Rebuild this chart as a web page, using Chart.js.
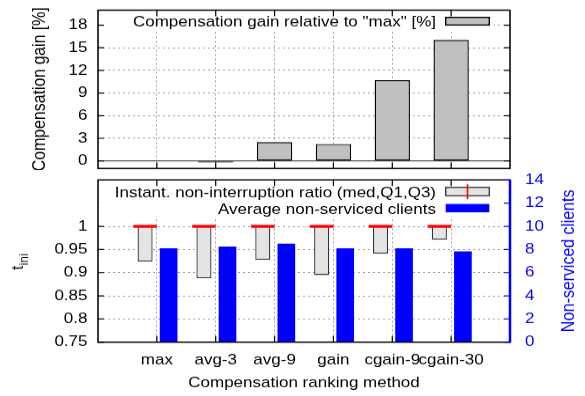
<!DOCTYPE html>
<html>
<head>
<meta charset="utf-8">
<script src="https://cdn.jsdelivr.net/npm/chart.js@4.4.1/dist/chart.umd.min.js"></script>
<style>
  html, body { margin: 0; padding: 0; background: #fff; }
  #wrap { width: 585px; height: 396px; }
</style>
</head>
<body>
<div id="wrap">
  <canvas id="gainChart" width="585" height="193" style="width:585px;height:170px"></canvas>
  <canvas id="ratioChart" width="585" height="257" style="width:585px;height:226px"></canvas>
</div>
<script>
// ============================================================================
//  DATA
// ============================================================================
const methods = ["max", "avg-3", "avg-9", "gain", "cgain-9", "cgain-30"];

const gainLabel = 'Compensation gain relative to "max" [%]';
const gainValues = [0, -0.2, 2.5, 2.25, 10.7, 16.05];
const gainTicks = [0, 3, 6, 9, 12, 15, 18];

const ratioLabel = "Instant. non-interruption ratio (med,Q1,Q3)";
const ratioQ1 = [0.924, 0.888, 0.928, 0.895, 0.941, 0.971];
const ratioQ3 = [1, 1, 1, 1, 1, 1];
const ratioMedian = [1, 1, 1, 1, 1, 1];
const ratioTicks = [0.75, 0.8, 0.85, 0.9, 0.95, 1];

const clientsLabel = "Average non-serviced clients";
const nonServiced = [8.1, 8.25, 8.5, 8.1, 8.1, 7.85];
const clientTicks = [0, 2, 4, 6, 8, 10, 12, 14];

// ============================================================================
//  STYLE
// ============================================================================
const FONT = "'Liberation Sans', Arial, sans-serif";
const GRID = "#9c9c9c";
const BLUE = "#0000ff";
Chart.defaults.font.family = FONT;
Chart.defaults.font.size = 17;
Chart.defaults.color = "#000";

// empty slot left and right of the six methods, like the gnuplot x range
const slots = ["", ...methods, ""];
const pad = arr => [null, ...arr, null];

function noPadding(s) {
    s.paddingTop = 0; s.paddingBottom = 0; s.paddingLeft = 0; s.paddingRight = 0;
}

// ============================================================================
//  FRAME + INWARD TICKS
// ============================================================================
function drawFrame(chart, rightScale) {
    const { ctx, chartArea: a, scales } = chart;
    ctx.save();
    ctx.strokeStyle = "#000";
    ctx.lineWidth = 1.2;
    ctx.beginPath();
    const xs = scales.x;
    for (let i = 1; i < xs.ticks.length - 1; i++) {
        const px = xs.getPixelForTick(i);
        ctx.moveTo(px, a.bottom); ctx.lineTo(px, a.bottom - 7);
        ctx.moveTo(px, a.top); ctx.lineTo(px, a.top + 7);
    }
    const ys = scales.y;
    ys.ticks.forEach(t => {
        const py = ys.getPixelForValue(t.value);
        ctx.moveTo(a.left, py); ctx.lineTo(a.left + 6, py);
        if (!rightScale) { ctx.moveTo(a.right, py); ctx.lineTo(a.right - 6, py); }
    });
    ctx.stroke();

    ctx.lineWidth = 1.5;
    ctx.beginPath();
    ctx.moveTo(a.right, a.top);
    ctx.lineTo(a.left, a.top);
    ctx.lineTo(a.left, a.bottom);
    ctx.lineTo(a.right, a.bottom);
    if (!rightScale) ctx.lineTo(a.right, a.top);
    ctx.stroke();

    if (rightScale) {
        const rs = scales[rightScale];
        ctx.strokeStyle = BLUE;
        ctx.lineWidth = 1.2;
        ctx.beginPath();
        rs.ticks.forEach(t => {
            const py = rs.getPixelForValue(t.value);
            ctx.moveTo(a.right, py); ctx.lineTo(a.right - 6, py);
        });
        ctx.stroke();
        ctx.lineWidth = 2.5;
        ctx.beginPath();
        ctx.moveTo(a.right, a.top - 0.7);
        ctx.lineTo(a.right, a.bottom + 0.7);
        ctx.stroke();
    }
    ctx.restore();
}

// ============================================================================
//  CHART 1 – Compensation gain
// ============================================================================
const gainPlugin = {
    id: "gainDecor",
    beforeDatasetsDraw(chart) {
        const { ctx, chartArea: a, scales } = chart;
        const py = scales.y.getPixelForValue(0);
        ctx.save();
        ctx.strokeStyle = "#333";
        ctx.lineWidth = 1;
        ctx.beginPath(); ctx.moveTo(a.left, py); ctx.lineTo(a.right, py); ctx.stroke();
        ctx.restore();
    },
    afterDatasetsDraw(chart) {
        const { ctx, chartArea: a } = chart;
        const ds = chart.data.datasets[0];
        ctx.save();
        ctx.fillStyle = "#fff";
        ctx.fillRect(a.left + 2, a.top + 1, 394, 22.8);
        ctx.font = `17px ${FONT}`;
        ctx.fillStyle = "#000";
        ctx.textAlign = "right";
        ctx.textBaseline = "alphabetic";
        ctx.fillText(ds.label, 436, 30.3);
        ctx.fillStyle = ds.backgroundColor;
        ctx.fillRect(445.7, 19.7, 43.6, 8.7);
        ctx.strokeStyle = "#000";
        ctx.lineWidth = 1.4;
        ctx.strokeRect(445.7, 19.7, 43.6, 8.7);
        ctx.restore();
    },
    afterDraw(chart) { drawFrame(chart, null); }
};

new Chart(document.getElementById("gainChart"), {
    type: "bar",
    data: {
        labels: slots,
        datasets: [{
            label: gainLabel,
            data: pad(gainValues),
            backgroundColor: "#c0c0c0",
            borderColor: "#000",
            borderWidth: 1.4,
            borderSkipped: false,
            categoryPercentage: 1,
            barPercentage: 0.6
        }]
    },
    options: {
        responsive: false,
        animation: false,
        layout: { padding: { left: 0, right: 75, top: 11.4, bottom: 1.75 } },
        plugins: { legend: { display: false }, tooltip: { enabled: false } },
        scales: {
            x: {
                offset: false,
                grid: { offset: false, color: GRID, lineWidth: 1, drawTicks: false },
                border: { display: false, dash: [2, 3] },
                ticks: { display: false },
                afterFit: s => { s.height = 0; noPadding(s); }
            },
            y: {
                min: -1, max: 20,
                afterBuildTicks: s => { s.ticks = gainTicks.map(v => ({ value: v })); },
                ticks: { padding: 10.5, callback: v => String(v) },
                grid: { color: GRID, lineWidth: 1, drawTicks: false },
                border: { display: false, dash: [2, 3] },
                title: {
                    display: true, text: "Compensation gain [%]",
                    font: { size: 18 }, padding: { top: 28.8, bottom: 0 }
                },
                afterFit: s => { s.width = 98; noPadding(s); }
            }
        }
    },
    plugins: [gainPlugin]
});

// ============================================================================
//  CHART 2 – non-interruption ratio + non-serviced clients
// ============================================================================
const ratioPlugin = {
    id: "ratioDecor",
    afterDatasetsDraw(chart) {
        const { ctx, chartArea: a } = chart;
        const boxDs = chart.data.datasets[0];
        const medDs = chart.data.datasets[1];
        const cliDs = chart.data.datasets[2];
        ctx.save();

        // median marks, from the median bars laid out by the library
        ctx.fillStyle = medDs.lineColor;
        chart.getDatasetMeta(1).data.forEach((el, i) => {
            if (!medDs.data[i]) return;
            ctx.fillRect(el.x - el.width / 2, el.y - 1.7, el.width, 3.4);
        });

        // key
        ctx.fillStyle = "#fff";
        ctx.fillRect(a.left + 2, a.top + 1, 394, 41);
        ctx.font = `17px ${FONT}`;
        ctx.fillStyle = "#000";
        ctx.textAlign = "right";
        ctx.textBaseline = "alphabetic";
        ctx.fillText(boxDs.label, 436, 31.0);
        ctx.fillText(cliDs.label, 436, 50.3);

        ctx.fillStyle = boxDs.backgroundColor;
        ctx.fillRect(445.7, 19.7, 43.6, 9.6);
        ctx.strokeStyle = boxDs.borderColor;
        ctx.lineWidth = 1.3;
        ctx.strokeRect(445.7, 19.7, 43.6, 9.6);
        ctx.strokeStyle = medDs.lineColor;
        ctx.lineWidth = 1.6;
        ctx.beginPath(); ctx.moveTo(467.5, 16.25); ctx.lineTo(467.5, 33.3); ctx.stroke();

        ctx.fillStyle = cliDs.backgroundColor;
        ctx.fillRect(445.7, 38.6, 43.6, 9.5);
        ctx.restore();
    },
    afterDraw(chart) {
        drawFrame(chart, "y2");
        const { ctx } = chart;
        ctx.save();
        // t_ini (subscript)
        ctx.translate(23, 113.6);
        ctx.rotate(-Math.PI / 2);
        ctx.fillStyle = "#000";
        ctx.textAlign = "left";
        ctx.textBaseline = "alphabetic";
        ctx.font = `17px ${FONT}`;
        ctx.fillText("t", 0, 0);
        const w = ctx.measureText("t").width;
        ctx.font = `13.5px ${FONT}`;
        ctx.fillText("ini", w + 0.5, 4.5);
        ctx.restore();

        ctx.save();
        ctx.translate(569, 103.4);
        ctx.rotate(-Math.PI / 2);
        ctx.fillStyle = BLUE;
        ctx.textAlign = "center";
        ctx.textBaseline = "middle";
        ctx.font = `18px ${FONT}`;
        ctx.fillText("Non-serviced clients", 0, 0);
        ctx.restore();
    }
};

new Chart(document.getElementById("ratioChart"), {
    type: "bar",
    data: {
        labels: slots,
        datasets: [{
            label: ratioLabel,
            data: pad(ratioQ1.map((q, i) => [q, ratioQ3[i]])),
            yAxisID: "y",
            stack: "ratio",
            backgroundColor: "#e4e4e4",
            borderColor: "#333",
            borderWidth: 1.3,
            borderSkipped: false,
            categoryPercentage: 0.8,
            barPercentage: 0.64
        }, {
            label: "median",
            data: pad(ratioMedian.map(m => [m, m])),
            yAxisID: "y",
            stack: "ratio",
            backgroundColor: "rgba(0,0,0,0)",
            borderWidth: 0,
            lineColor: "#ff0000",
            categoryPercentage: 0.8,
            barPercentage: 1
        }, {
            label: clientsLabel,
            data: pad(nonServiced),
            yAxisID: "y2",
            stack: "clients",
            backgroundColor: BLUE,
            borderWidth: 0,
            categoryPercentage: 0.8,
            barPercentage: 0.75
        }]
    },
    options: {
        responsive: false,
        animation: false,
        layout: { padding: { left: 0, right: 0, top: 11.36, bottom: 0 } },
        plugins: { legend: { display: false }, tooltip: { enabled: false } },
        scales: {
            x: {
                offset: false,
                grid: { offset: false, color: GRID, lineWidth: 1, drawTicks: false },
                border: { display: false, dash: [2, 3] },
                ticks: { padding: 9.9, autoSkip: false, maxRotation: 0 },
                title: { display: true, text: "Compensation ranking method", padding: { top: 0, bottom: 4.8 } },
                afterFit: s => { s.height = 61.2; noPadding(s); }
            },
            y: {
                position: "left",
                stacked: false,
                min: 0.75, max: 1.1,
                afterBuildTicks: s => { s.ticks = ratioTicks.map(v => ({ value: v })); },
                ticks: { padding: 10.5, callback: v => String(v) },
                grid: { color: GRID, lineWidth: 1, drawTicks: false },
                border: { display: false, dash: [2, 3] },
                afterFit: s => { s.width = 98; noPadding(s); }
            },
            y2: {
                position: "right",
                stacked: false,
                min: 0, max: 14,
                afterBuildTicks: s => { s.ticks = clientTicks.map(v => ({ value: v })); },
                ticks: { padding: 15, color: BLUE, callback: v => String(v) },
                grid: { display: false, drawTicks: false },
                border: { display: false },
                afterFit: s => { s.width = 75; noPadding(s); }
            }
        }
    },
    plugins: [ratioPlugin]
});
</script>
</body>
</html>
